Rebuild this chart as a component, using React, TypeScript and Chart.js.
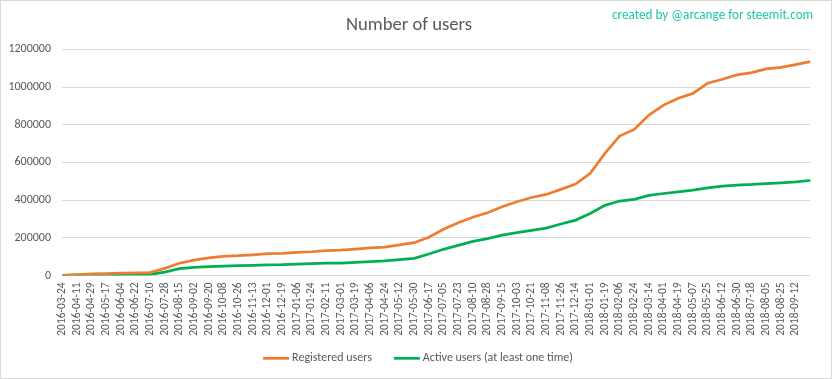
import React, { useEffect, useRef } from "react";
import { Chart, registerables } from "chart.js";

Chart.register(...registerables);

const FONT = "Carlito, Calibri, Lato, sans-serif";
const TEXT_COLOR = "#595959";

const tickLabels = [
  "2016-03-24", "2016-04-11", "2016-04-29", "2016-05-17", "2016-06-04", "2016-06-22",
  "2016-07-10", "2016-07-28", "2016-08-15", "2016-09-02", "2016-09-20", "2016-10-08",
  "2016-10-26", "2016-11-13", "2016-12-01", "2016-12-19", "2017-01-06", "2017-01-24",
  "2017-02-11", "2017-03-01", "2017-03-19", "2017-04-06", "2017-04-24", "2017-05-12",
  "2017-05-30", "2017-06-17", "2017-07-05", "2017-07-23", "2017-08-10", "2017-08-28",
  "2017-09-15", "2017-10-03", "2017-10-21", "2017-11-08", "2017-11-26", "2017-12-14",
  "2018-01-01", "2018-01-19", "2018-02-06", "2018-02-24", "2018-03-14", "2018-04-01",
  "2018-04-19", "2018-05-07", "2018-05-25", "2018-06-12", "2018-06-30", "2018-07-18",
  "2018-08-05", "2018-08-25", "2018-09-12", "",
];

const registeredUsers = [
  1000, 4000, 8000, 10000, 12000, 14000, 15000, 38000, 65000, 82000,
  93000, 102000, 105000, 110000, 116000, 118000, 123000, 126000, 132000, 135000,
  140000, 146000, 151000, 162000, 174000, 203000, 245000, 280000, 309000, 333000,
  365000, 391000, 414000, 430000, 457000, 485000, 542000, 648000, 740000, 775000,
  851000, 904000, 940000, 966000, 1020000, 1041000, 1064000, 1076000, 1096000, 1104000,
  1119000, 1135000,
];

const activeUsers = [
  500, 2000, 3000, 4000, 5000, 5500, 6000, 18000, 36000, 43000,
  47000, 50000, 52000, 54000, 57000, 58000, 61000, 63000, 65000, 66000,
  70000, 73000, 77000, 84000, 91000, 114000, 139000, 160000, 181000, 196000,
  214000, 227000, 239000, 251000, 273000, 294000, 329000, 372000, 395000, 404000,
  425000, 435000, 444000, 453000, 465000, 474000, 480000, 483000, 488000, 492000,
  497000, 504000,
];

const seriesNames = ["Registered users", "Active users (at least one time)"];
const seriesColors = ["#ED7D31", "#00B050"];
const yTicks = [0, 200000, 400000, 600000, 800000, 1000000, 1200000];

const bottomLegend = {
  id: "bottomLegend",
  afterDraw(chart: any) {
    const ctx = chart.ctx as CanvasRenderingContext2D;
    ctx.save();
    ctx.font = `12px ${FONT}`;
    const items = chart.data.datasets.map((ds: any) => ({
      text: ds.label as string,
      color: ds.borderColor as string,
      w: ctx.measureText(ds.label).width,
    }));
    const lineW = 26;
    const gap = 3;
    const between = 22;
    const total =
      items.reduce((a: number, it: any) => a + lineW + gap + it.w, 0) +
      between * (items.length - 1);
    let x = chart.width / 2 + 2 - total / 2;
    const y = 357.3;
    for (const it of items) {
      ctx.strokeStyle = it.color;
      ctx.lineWidth = 2.75;
      ctx.beginPath();
      ctx.moveTo(x, y);
      ctx.lineTo(x + lineW, y);
      ctx.stroke();
      x += lineW + gap;
      ctx.fillStyle = TEXT_COLOR;
      ctx.textBaseline = "middle";
      ctx.textAlign = "left";
      ctx.fillText(it.text, x, y);
      x += it.w + between;
    }
    ctx.restore();
  },
};

export default function App() {
  const ref = useRef<HTMLCanvasElement>(null);

  useEffect(() => {
    if (!ref.current) return;
    const chart = new Chart(ref.current, {
      type: "line",
      data: {
        labels: tickLabels,
        datasets: [
          {
            label: seriesNames[0],
            data: registeredUsers,
            borderColor: seriesColors[0],
            backgroundColor: seriesColors[0],
            borderWidth: 2.75,
            pointRadius: 0,
            tension: 0,
          },
          {
            label: seriesNames[1],
            data: activeUsers,
            borderColor: seriesColors[1],
            backgroundColor: seriesColors[1],
            borderWidth: 2.75,
            pointRadius: 0,
            tension: 0,
          },
        ],
      },
      options: {
        responsive: false,
        animation: false,
        layout: { padding: { left: 0, right: 14, top: 0, bottom: 38.5 } },
        plugins: {
          title: {
            display: true,
            text: "Number of users",
            color: TEXT_COLOR,
            font: { family: FONT, size: 18.67, weight: "normal" },
            padding: { top: 13, bottom: 12.9 },
          },
          legend: { display: false },
          tooltip: { enabled: false },
        },
        scales: {
          x: {
            grid: { display: false, drawTicks: false },
            border: { display: false },
            ticks: {
              autoSkip: false,
              minRotation: 90,
              maxRotation: 90,
              padding: 7,
              color: TEXT_COLOR,
              font: { family: FONT, size: 11.4 },
            },
            afterFit: (s: any) => {
              s.height = 64;
            },
          },
          y: {
            min: yTicks[0],
            max: yTicks[yTicks.length - 1],
            ticks: {
              stepSize: yTicks[1] - yTicks[0],
              padding: 11,
              color: TEXT_COLOR,
              font: { family: FONT, size: 12 },
              callback: (v: any) => String(v),
            },
            grid: { color: "#d9d9d9", drawTicks: false },
            border: { display: false },
            afterFit: (s: any) => {
              s.width = 61;
            },
          },
        },
      },
      plugins: [bottomLegend],
    });
    return () => chart.destroy();
  }, []);

  return (
    <div
      style={{
        position: "absolute",
        left: 0,
        top: 0,
        width: 832,
        height: 379,
        boxSizing: "border-box",
        border: "1px solid #d9d9d9",
        background: "#fff",
      }}
    >
      <canvas ref={ref} width={830} height={377} style={{ display: "block" }} />
      <div
        style={{
          position: "absolute",
          left: 611,
          top: 6,
          fontFamily: FONT,
          fontSize: 13.2,
          lineHeight: "15px",
          color: "#1ec8a5",
          whiteSpace: "nowrap",
        }}
      >
        created by @arcange for steemit.com
      </div>
    </div>
  );
}
